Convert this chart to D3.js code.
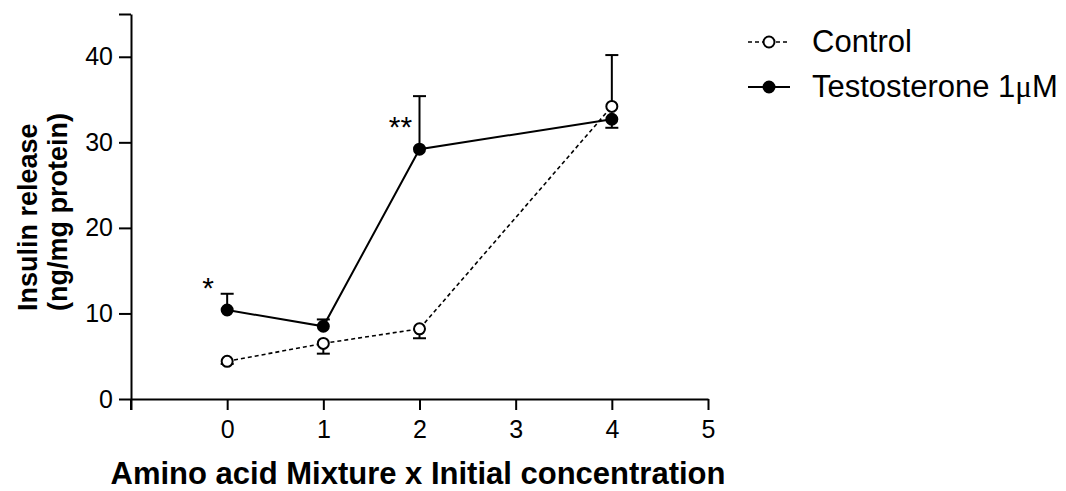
<!DOCTYPE html>
<html>
<head>
<meta charset="utf-8">
<script src="https://cdn.jsdelivr.net/npm/d3@7"></script>
<style>
  html, body { margin: 0; padding: 0; background: #fff; }
  svg { display: block; }
  text { font-family: Arial, "Liberation Sans", sans-serif; fill: #000; }
</style>
</head>
<body>
<svg id="chart" width="1066" height="491"></svg>
<script>
// Amino acid mixture (x initial concentration) on the x axis
const doses = [0, 1, 2, 4];

// Control group: mean insulin release and SEM
const controlMean = [4.4, 6.5, 8.2, 34.2];
const controlSem  = [0.3, 1.2, 1.1, 6.0];
const controlErrDir = [-1, -1, -1, 1];   // side the error bar is drawn on

// Testosterone 1µM group: mean insulin release and SEM
const testoMean = [10.4, 8.5, 29.2, 32.7];
const testoSem  = [1.9, 0.8, 6.2, 1.0];
const testoErrDir = [1, 1, 1, -1];
const testoSig  = ["*", "", "**", ""];

const xTicks = [0, 1, 2, 3, 4, 5];
const yTicks = [0, 10, 20, 30, 40];

const svg = d3.select("#chart");

const x = d3.scaleLinear().domain([-1, 5]).range([131, 708]);
const y = d3.scaleLinear().domain([0, 45]).range([399, 14]);

// Axes
const yAxis = d3.axisLeft(y).tickValues(yTicks.concat([45]))
  .tickFormat(d => yTicks.includes(d) ? d : "")
  .tickSize(12).tickPadding(6).tickSizeOuter(0);
const gy = svg.append("g").attr("transform", `translate(${x(-1)},0)`).call(yAxis);

const xAxis = d3.axisBottom(x).tickValues([-1].concat(xTicks))
  .tickFormat(d => d < 0 ? "" : d)
  .tickSize(11).tickPadding(10).tickSizeOuter(0);
const gx = svg.append("g").attr("transform", `translate(0,${y(0)})`).call(xAxis);

[gx, gy].forEach(g => {
  g.select(".domain").attr("stroke", "#000").attr("stroke-width", 2);
  g.selectAll(".tick line").attr("stroke", "#000").attr("stroke-width", 2);
  g.selectAll(".tick text").attr("font-size", 25).attr("fill", "#000")
    .attr("font-family", "Arial, 'Liberation Sans', sans-serif");
});
// y axis line continues a little below the x axis, as the x ticks do
svg.append("line").attr("x1", x(-1)).attr("x2", x(-1))
  .attr("y1", y(0)).attr("y2", y(0) + 11).attr("stroke", "#000").attr("stroke-width", 2);

// Axis titles
svg.append("text")
  .attr("x", 418).attr("y", 484).attr("text-anchor", "middle")
  .attr("font-size", 31).attr("font-weight", "bold")
  .text("Amino acid Mixture x Initial concentration");

const yTitle = svg.append("text")
  .attr("transform", "rotate(-90)")
  .attr("font-size", 27).attr("font-weight", "bold").attr("text-anchor", "start");
yTitle.append("tspan").attr("x", -311).attr("y", 37).text("Insulin release");
yTitle.append("tspan").attr("x", -311).attr("y", 67).text("(ng/mg protein)");

// Series
const series = [
  { name: "Control", mean: controlMean, sem: controlSem, dir: controlErrDir,
    fill: "#fff", dash: "4,3", width: 1.6 },
  { name: "Testosterone", mean: testoMean, sem: testoSem, dir: testoErrDir,
    fill: "#000", dash: null, width: 2 }
];

const line = d3.line().x(d => x(d.dose)).y(d => y(d.v));

series.forEach(s => {
  const pts = doses.map((dose, i) => ({ dose, v: s.mean[i], e: s.sem[i], dir: s.dir[i] }));
  const g = svg.append("g");

  g.append("path").datum(pts).attr("d", line)
    .attr("fill", "none").attr("stroke", "#000")
    .attr("stroke-width", s.width).attr("stroke-dasharray", s.dash);

  // one-sided error bars with caps
  const eb = g.selectAll(".err").data(pts).enter().append("g");
  eb.append("line")
    .attr("x1", d => x(d.dose)).attr("x2", d => x(d.dose))
    .attr("y1", d => y(d.v)).attr("y2", d => y(d.v + d.dir * d.e))
    .attr("stroke", "#000").attr("stroke-width", 2);
  eb.append("line")
    .attr("x1", d => x(d.dose) - 6.5).attr("x2", d => x(d.dose) + 6.5)
    .attr("y1", d => y(d.v + d.dir * d.e)).attr("y2", d => y(d.v + d.dir * d.e))
    .attr("stroke", "#000").attr("stroke-width", 2);

  g.selectAll("circle").data(pts).enter().append("circle")
    .attr("cx", d => x(d.dose)).attr("cy", d => y(d.v)).attr("r", 5.5)
    .attr("fill", s.fill).attr("stroke", "#000").attr("stroke-width", 2);
});

// Significance marks next to the testosterone points
svg.append("g").selectAll("text")
  .data(doses.map((dose, i) => ({ dose, v: testoMean[i], s: testoSig[i] })).filter(d => d.s))
  .enter().append("text")
  .attr("x", d => x(d.dose) - 19).attr("y", d => y(d.v) - 12)
  .attr("text-anchor", "middle").attr("font-size", 30).attr("fill", "#222")
  .text(d => d.s);

// Legend
const legend = [
  { label: "Control", fill: "#fff", dash: "4,3", width: 1.6, serif: true, y: 42 },
  { label: "Testosterone 1", mu: "\u03bc", tail: "M", fill: "#000", dash: null, width: 2, serif: false, y: 87 }
];
const lg = svg.append("g");
legend.forEach(l => {
  lg.append("line").attr("x1", 748).attr("x2", 790).attr("y1", l.y).attr("y2", l.y)
    .attr("stroke", "#000").attr("stroke-width", l.width).attr("stroke-dasharray", l.dash);
  lg.append("circle").attr("cx", 769).attr("cy", l.y).attr("r", 5.5)
    .attr("fill", l.fill).attr("stroke", "#000").attr("stroke-width", 2);
  const t = lg.append("text").attr("x", 812).attr("y", l.y + 10);
  if (l.serif) {
    t.attr("font-family", "'Liberation Serif', 'Times New Roman', serif").attr("font-size", 31).text(l.label);
  } else {
    t.attr("font-size", 31);
    t.append("tspan").text(l.label);
    t.append("tspan").attr("font-family", "'Liberation Serif', 'Times New Roman', serif").text(l.mu);
    t.append("tspan").text(l.tail);
  }
});
</script>
</body>
</html>
